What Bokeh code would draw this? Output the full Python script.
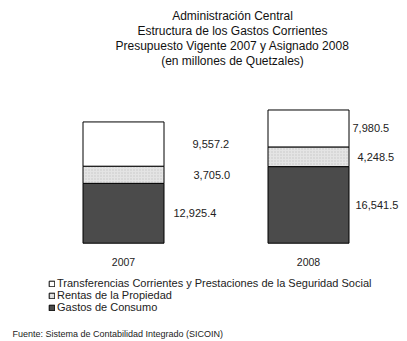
from bokeh.plotting import figure
from bokeh.models import Label, Legend, LegendItem, Range1d
from bokeh.core.properties import value
from bokeh.embed import file_html
from bokeh.resources import INLINE

# ---- data ----
years = ["2007", "2008"]
gastos_consumo = [12925.4, 16541.5]
rentas_propiedad = [3705.0, 4248.5]
transferencias = [9557.2, 7980.5]
series_names = ["Gastos de Consumo", "Rentas de la Propiedad",
                "Transferencias Corrientes y Prestaciones de la Seguridad Social"]
title_lines = ["Administración Central",
               "Estructura de los Gastos Corrientes",
               "Presupuesto Vigente 2007 y Asignado 2008",
               "(en millones de Quetzales)"]
source_note = "Fuente: Sistema de Contabilidad Integrado (SICOIN)"

# ---- layout constants (pixels) ----
W, H = 407, 341
PX_PER_UNIT = 0.00463          # pixels per million Q
BASE_PX = 98.3                 # baseline height above bottom edge
CAT0_PX, CAT_STEP = 123.0, 185.0
BAR_W = 81.0 / CAT_STEP

p = figure(width=W, height=H, output_backend="svg", toolbar_location=None,
           min_border=0, min_border_left=0, min_border_right=0,
           min_border_top=0, min_border_bottom=0,
           x_range=Range1d(-CAT0_PX / CAT_STEP, (W - CAT0_PX) / CAT_STEP),
           y_range=Range1d(-BASE_PX / PX_PER_UNIT, (H - BASE_PX) / PX_PER_UNIT))
p.axis.visible = False
p.grid.visible = False
p.outline_line_color = None
p.background_fill_color = "white"
p.border_fill_color = "white"

xs = list(range(len(years)))
b0 = [0] * len(years)
t0 = gastos_consumo
t1 = [a + b for a, b in zip(t0, rentas_propiedad)]
t2 = [a + b for a, b in zip(t1, transferencias)]

r_g = p.vbar(x=xs, width=BAR_W, bottom=b0, top=t0, fill_color="#4b4b4b",
             line_color="black", line_width=1)
r_r = p.vbar(x=xs, width=BAR_W, bottom=t0, top=t1, fill_color="#e4e4e4",
             hatch_pattern="dot", hatch_color="#c4c4c4", hatch_scale=3,
             line_color="black", line_width=1)
r_t = p.vbar(x=xs, width=BAR_W, bottom=t1, top=t2, fill_color="white",
             line_color="black", line_width=1)

# value labels
label_dx = {  # pixel offset of label left edge from bar centre, per year: (gastos, rentas, transf)
    0: (50, 70, 69),
    1: (47, 49, 44),
}
lx, ly, lt = [], [], []
for i in xs:
    segs = [(0, t0[i], gastos_consumo[i]), (t0[i], t1[i], rentas_propiedad[i]),
            (t1[i], t2[i], transferencias[i])]
    for k, (lo, hi, v) in enumerate(segs):
        lx.append(i + label_dx[i][k] / CAT_STEP)
        ly.append((lo + hi) / 2)
        lt.append(f"{v:,.1f}")
p.text(x=lx, y=ly, text=lt, text_align="left", text_baseline="middle",
       text_font=value("Liberation Sans"), text_font_size="11px", text_color="#222222")

# category labels
p.text(x=xs, y=[0] * len(xs), text=years, text_align="center", text_baseline="middle",
       y_offset=19, text_font=value("Liberation Sans"), text_font_size="10.5px",
       text_color="#222222")

# title
title_y = [H - 15, H - 30, H - 45, H - 60]
for line, ty in zip(title_lines, title_y):
    p.add_layout(Label(x=232, y=ty, x_units="screen", y_units="screen", text=line,
                       text_align="center", text_baseline="middle",
                       text_font="Liberation Sans", text_font_style="normal",
                       text_font_size="12px", text_color="#111111"))

# source
p.add_layout(Label(x=12, y=H - 333, x_units="screen", y_units="screen", text=source_note,
                   text_align="left", text_baseline="middle",
                   text_font="Liberation Sans", text_font_size="9px",
                   text_color="#222222"))

legend = Legend(items=[LegendItem(label=series_names[2], renderers=[r_t]),
                       LegendItem(label=series_names[1], renderers=[r_r]),
                       LegendItem(label=series_names[0], renderers=[r_g])],
                location=(48, 28), orientation="vertical",
                glyph_width=7, glyph_height=7, label_height=7, label_standoff=2,
                spacing=0, padding=0, margin=0,
                label_text_font="Liberation Sans", label_text_font_size="11px",
                label_text_color="#222222",
                border_line_alpha=0, background_fill_alpha=0)
p.add_layout(legend)

open("out.html", "w").write(file_html(p, INLINE))
